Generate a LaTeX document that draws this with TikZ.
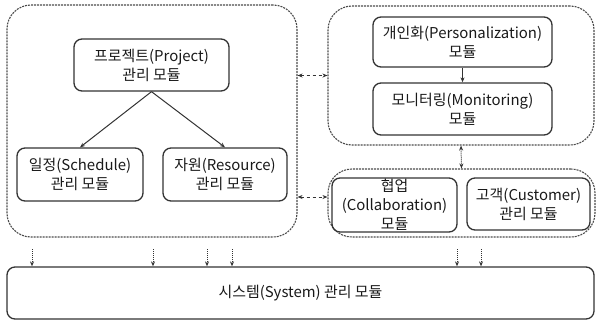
\documentclass[tikz,border=0pt]{standalone}
\usepackage{fontspec}
\setmainfont{Noto Sans CJK KR}
\usetikzlibrary{arrows.meta}

\tikzset{
  module/.style={rectangle, rounded corners=8bp, draw=black!80, line width=1.3bp,
    align=center, inner sep=0pt, text=black!90, font=\fontsize{15}{19}\selectfont},
  group/.style={rectangle, rounded corners=24bp, draw=black!70, line width=1.1bp,
    dash pattern=on 2bp off 1bp},
  link/.style={-{Stealth[length=5bp,width=4bp]}, line width=1bp, black!80},
  twolink/.style={{Stealth[length=5bp,width=4bp]}-{Stealth[length=5bp,width=4bp]},
    line width=1bp, black!80},
}

\begin{document}
\begin{tikzpicture}[x=1bp, y=-1bp]
  \useasboundingbox (0,0) rectangle (596,323);

  % Dashed groups
  \node [group, minimum width=290bp, minimum height=232bp] (projgroup) at (152,121) {};
  \node [group, minimum width=266bp, minimum height=139bp] (persgroup) at (461,75.5) {};
  \node [group, minimum width=267bp, minimum height=68bp] (collabgroup) at (461.5,203) {};

  % Project management modules
  \node [module, minimum width=155bp, minimum height=52bp] (project) at (151.5,65)
    {프로젝트(Project)\\관리 모듈};
  \node [module, minimum width=126bp, minimum height=53bp] (schedule) at (80,174.5)
    {일정(Schedule)\\관리 모듈};
  \node [module, minimum width=124bp, minimum height=53bp] (resource) at (225,174.5)
    {자원(Resource)\\관리 모듈};
  \draw [link] (project.south) -- (schedule.north);
  \draw [link] (project.south) -- (resource.north);

  % Personalization and monitoring
  \node [module, minimum width=179bp, minimum height=50bp] (pers) at (462.5,42)
    {개인화(Personalization)\\모듈};
  \node [module, minimum width=179bp, minimum height=52bp] (monitor) at (462.5,109)
    {모니터링(Monitoring)\\모듈};
  \draw [link] (pers.south) -- (monitor.north);

  % Collaboration and customer
  \node [module, minimum width=125bp, minimum height=54bp] (collab) at (394.5,205)
    {협업\\(Collaboration)\\모듈};
  \node [module, minimum width=123bp, minimum height=52bp] (customer) at (528.5,204)
    {고객(Customer)\\관리 모듈};

  % System management module
  \node [module, minimum width=587bp, minimum height=52bp] (system) at (300.5,293)
    {시스템(System) 관리 모듈};

  % Links between the groups
  \draw [twolink, dashed] (projgroup.east |- persgroup.west) -- (persgroup.west);
  \draw [twolink, dashed] ([yshift=6bp]projgroup.east |- collabgroup.west)
    -- ([yshift=6bp]collabgroup.west);
  \draw [twolink, densely dotted] (persgroup.south) -- (collabgroup.north);

  % Links down to the system module
  \foreach \x [count=\i] in {32,153,207,232,457,481} {
    \coordinate (d\i) at (\x,249);
    \draw [link, densely dotted] (d\i) -- (d\i |- system.north);
  }
\end{tikzpicture}
\end{document}
